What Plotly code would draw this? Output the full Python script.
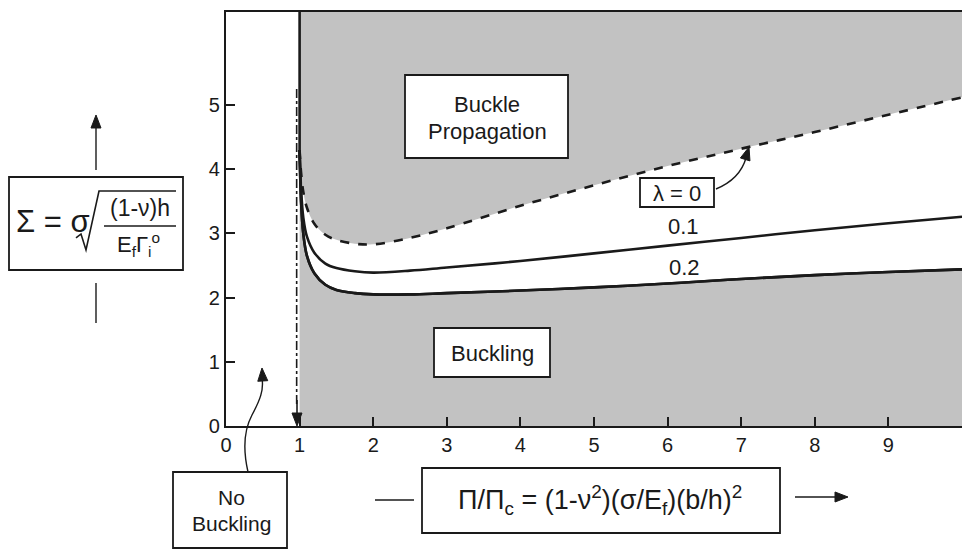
import math
import plotly.graph_objects as go

# ---------------- data ----------------
pi_ratio = [1.0, 1.02, 1.05, 1.1, 1.2, 1.35, 1.5, 1.75, 2.0, 2.5, 3, 4, 5, 6, 7, 8, 9, 10]
sigma_lambda_0 = [4.3, 3.95, 3.65, 3.4, 3.15, 2.98, 2.9, 2.84, 2.83, 2.93, 3.08, 3.43, 3.75, 4.05, 4.32, 4.58, 4.85, 5.12]
sigma_lambda_01 = [4.3, 3.7, 3.25, 2.95, 2.7, 2.53, 2.46, 2.41, 2.39, 2.42, 2.47, 2.57, 2.69, 2.81, 2.93, 3.05, 3.16, 3.26]
sigma_lambda_02 = [4.3, 3.5, 3.0, 2.65, 2.38, 2.2, 2.12, 2.07, 2.05, 2.05, 2.07, 2.11, 2.16, 2.22, 2.29, 2.35, 2.40, 2.44]
x_ticks = [0, 1, 2, 3, 4, 5, 6, 7, 8, 9]
y_ticks = [0, 1, 2, 3, 4, 5]
buckling_onset = 1.0          # Pi/Pi_c = 1
onset_marker_x = 0.96
onset_marker_top = 5.25
x_max, y_max = 10, 6.45

# ---------------- layout geometry ----------------
W, H = 962, 550
L, R, T, B = 226, 0, 12, 124
PW, PH = W - L - R, H - T - B


def px(x):
    return (x - L) / PW


def py(y):
    return (H - B - y) / PH


FONT = "Liberation Sans, Arial, sans-serif"
INK = "#1a1a1a"
GRAY = "#c2c2c2"

fig = go.Figure()

# white band between lambda=0.2 and lambda=0
fig.add_trace(go.Scatter(x=pi_ratio, y=sigma_lambda_02, mode="lines",
                         line=dict(color=INK, width=2.6, shape="spline"), hoverinfo="skip"))
fig.add_trace(go.Scatter(x=pi_ratio, y=sigma_lambda_0, mode="lines", fill="tonexty",
                         fillcolor="white",
                         line=dict(color=INK, width=2.6, dash="dash", shape="spline"), hoverinfo="skip"))
fig.add_trace(go.Scatter(x=pi_ratio, y=sigma_lambda_01, mode="lines",
                         line=dict(color=INK, width=2.6, shape="spline"), hoverinfo="skip"))
fig.add_trace(go.Scatter(x=pi_ratio, y=sigma_lambda_02, mode="lines",
                         line=dict(color=INK, width=2.6, shape="spline"), hoverinfo="skip"))
# vertical boundary at Pi/Pi_c = 1
fig.add_trace(go.Scatter(x=[buckling_onset, buckling_onset], y=[y_max, sigma_lambda_0[0]], mode="lines",
                         line=dict(color=INK, width=2.6), hoverinfo="skip"))
# dash-dot onset marker
fig.add_trace(go.Scatter(x=[onset_marker_x, onset_marker_x], y=[onset_marker_top, 0.3], mode="lines",
                         line=dict(color=INK, width=1.6, dash="dashdot"), hoverinfo="skip"))

shapes = []
# gray region
shapes.append(dict(type="rect", xref="x", yref="y", x0=buckling_onset, x1=x_max, y0=0, y1=y_max,
                   fillcolor=GRAY, line=dict(width=0), layer="below"))


def box(x0, y0, x1, y1):
    shapes.append(dict(type="rect", xref="paper", yref="paper", x0=px(x0), x1=px(x1), y0=py(y1), y1=py(y0),
                       fillcolor="white", line=dict(color=INK, width=1.8), layer="above"))


def seg(points, width=1.4):
    d = "M " + " L ".join(f"{px(a):.5f},{py(b):.5f}" for a, b in points)
    shapes.append(dict(type="path", xref="paper", yref="paper", path=d,
                       line=dict(color=INK, width=width), layer="above"))


def curve(d_pts, width=1.4):
    parts = []
    for cmd, pts in d_pts:
        parts.append(cmd + " " + " ".join(f"{px(a):.5f},{py(b):.5f}" for a, b in pts))
    shapes.append(dict(type="path", xref="paper", yref="paper", path=" ".join(parts),
                       line=dict(color=INK, width=width), layer="above"))


def head(tip, tail, length=13, half=5):
    dx, dy = tip[0] - tail[0], tip[1] - tail[1]
    n = math.hypot(dx, dy)
    ux, uy = dx / n, dy / n
    bx, by = tip[0] - ux * length, tip[1] - uy * length
    p1 = (bx - uy * half, by + ux * half)
    p2 = (bx + uy * half, by - ux * half)
    d = (f"M {px(tip[0]):.5f},{py(tip[1]):.5f} L {px(p1[0]):.5f},{py(p1[1]):.5f} "
         f"L {px(p2[0]):.5f},{py(p2[1]):.5f} Z")
    shapes.append(dict(type="path", xref="paper", yref="paper", path=d, fillcolor=INK,
                       line=dict(color=INK, width=1), layer="above"))


box(405, 75, 568, 158)      # Buckle Propagation
box(434, 328, 550, 377)     # Buckling
box(640, 178, 714, 207)     # lambda = 0
box(173, 472, 287, 548)     # No Buckling
box(9, 177, 183, 270)       # Sigma label
box(422, 468, 780, 533)     # x label

# radical sign and fraction bar
seg([(76, 238), (81, 234), (86, 250), (99, 191), (176, 191)], width=1.6)
seg([(104, 226), (176, 226)], width=1.6)
# axis-title arrow lines
seg([(96, 125), (96, 170)])
seg([(96, 283), (96, 323)])
seg([(375, 500), (414, 500)])
seg([(795, 497), (838, 497)])
seg([(297, 400), (297, 416)], width=1.6)
# curved arrows
curve([("M", [(248, 472)]), ("C", [(243, 450), (244, 430), (252, 415)]),
       ("C", [(260, 400), (264, 390), (262, 378)])])
curve([("M", [(716, 189)]), ("Q", [(740, 179), (746, 158)])])

# arrowheads
head((96, 115), (96, 170))
head((848, 497), (795, 497))
head((262, 368), (263, 385))
head((749, 147), (745, 160))
head((297, 426), (297, 400))

fig.update_layout(shapes=shapes)

ann = []


def text(x, y, s, size=22, family=FONT):
    ann.append(dict(xref="paper", yref="paper", x=px(x), y=py(y), text=s, showarrow=False,
                    font=dict(family=family, size=size, color=INK), xanchor="center", yanchor="middle"))


text(487, 104, "Buckle", 22)
text(487, 131, "Propagation", 22)
text(492, 353, "Buckling", 22)
text(677, 193, "λ = 0", 22)
text(683, 226, "0.1", 22)
text(684, 267, "0.2", 22)
text(231, 497, "No", 21)
text(231, 523, "Buckling", 21)
text(53, 221, "Σ = σ", 31)
text(140, 208, "(1-ν)h", 23)
text(138, 244, "E<sub>f</sub>Γ<sub>i</sub><sup>o</sup>", 22)
text(600, 500, "Π/Π<sub>c</sub> = (1-ν<sup>2</sup>)(σ/E<sub>f</sub>)(b/h)<sup>2</sup>", 27)

fig.update_layout(annotations=ann)

fig.update_layout(
    width=W, height=H,
    margin=dict(l=L, r=R, t=T, b=B, pad=0),
    paper_bgcolor="white", plot_bgcolor="white",
    showlegend=False,
    font=dict(family=FONT, size=20, color=INK),
    xaxis=dict(range=[0, x_max], tickvals=x_ticks, ticktext=[str(v) for v in x_ticks],
               ticks="inside", ticklen=9, tickwidth=1.6, tickcolor=INK,
               tickfont=dict(size=20, color=INK),
               showline=True, linecolor=INK, linewidth=2.2, mirror=True,
               showgrid=False, zeroline=False, fixedrange=True),
    yaxis=dict(range=[0, y_max], tickvals=y_ticks, ticktext=[str(v) for v in y_ticks],
               ticks="inside", ticklen=9, tickwidth=1.6, tickcolor=INK,
               tickfont=dict(size=20, color=INK),
               showline=True, linecolor=INK, linewidth=2.2,
               showgrid=False, zeroline=False, fixedrange=True),
)

fig.write_html("out.html")
